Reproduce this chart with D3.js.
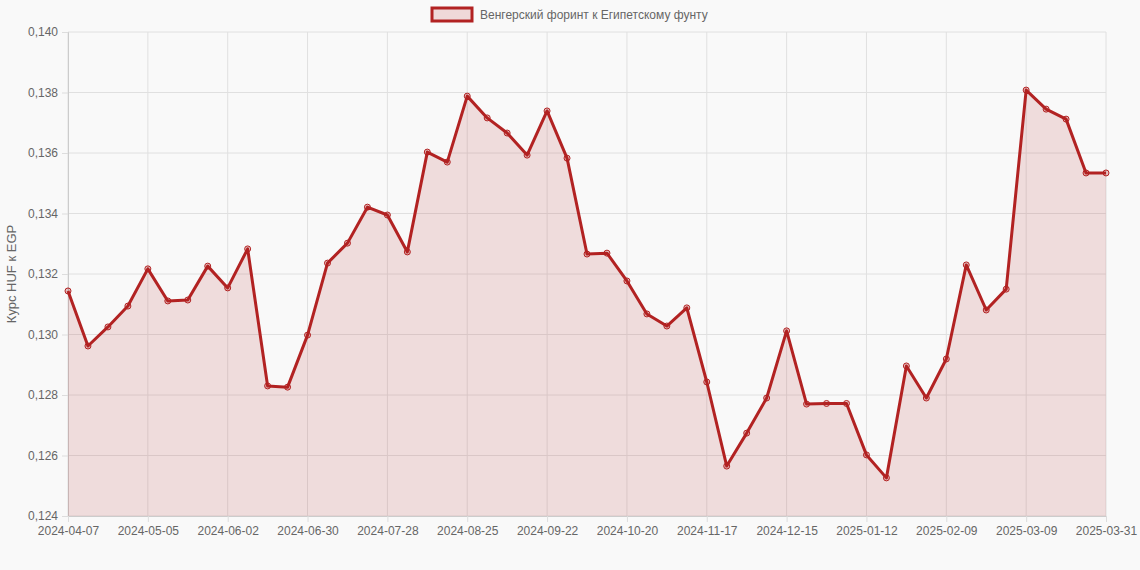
<!DOCTYPE html>
<html><head><meta charset="utf-8">
<script src="https://cdn.jsdelivr.net/npm/d3@7"></script>
<style>body{margin:0;background:#f9f9f9;font-family:"Liberation Sans",Arial,sans-serif}</style>
</head><body><svg id="c" width="1140" height="570"></svg>
<script>
const dates = ["2024-04-07","2024-04-14","2024-04-21","2024-04-28","2024-05-05","2024-05-12","2024-05-19","2024-05-26","2024-06-02","2024-06-09","2024-06-16","2024-06-23","2024-06-30","2024-07-07","2024-07-14","2024-07-21","2024-07-28","2024-08-04","2024-08-11","2024-08-18","2024-08-25","2024-09-01","2024-09-08","2024-09-15","2024-09-22","2024-09-29","2024-10-06","2024-10-13","2024-10-20","2024-10-27","2024-11-03","2024-11-10","2024-11-17","2024-11-24","2024-12-01","2024-12-08","2024-12-15","2024-12-22","2024-12-29","2025-01-05","2025-01-12","2025-01-19","2025-01-26","2025-02-02","2025-02-09","2025-02-16","2025-02-23","2025-03-02","2025-03-09","2025-03-16","2025-03-23","2025-03-30","2025-03-31"];
const rates = [0.13144,0.12962,0.13025,0.13094,0.13217,0.13111,0.13114,0.13226,0.13154,0.13283,0.12830,0.12826,0.12998,0.13236,0.13302,0.13421,0.13395,0.13273,0.13603,0.13570,0.13788,0.13716,0.13666,0.13593,0.13739,0.13583,0.13266,0.13269,0.13177,0.13068,0.13028,0.13088,0.12843,0.12565,0.12674,0.12790,0.13012,0.12770,0.12772,0.12772,0.12602,0.12526,0.12896,0.12790,0.12919,0.13230,0.13081,0.13150,0.13808,0.13745,0.13712,0.13534,0.13534];
const yTicks = [0.124,0.126,0.128,0.130,0.132,0.134,0.136,0.138,0.140];
const xTickIdx = [0,4,8,12,16,20,24,28,32,36,40,44,48,52];
const seriesName = "Венгерский форинт к Египетскому фунту";
const yTitle = "Курс HUF к EGP";

const F = "Liberation Sans, Arial, sans-serif";
const svg = d3.select("#c");
const L=68,R=1106,T=32,B=516;
const x = d3.scalePoint().domain(d3.range(dates.length)).range([L,R]);
const y = d3.scaleLinear().domain([0.124,0.140]).range([B,T]);
const fmt = v => v.toFixed(3).replace(".",",");
const g = svg.append("g");
g.selectAll(".hy").data(yTicks).join("line").attr("x1",L).attr("x2",R).attr("y1",d=>y(d)).attr("y2",d=>y(d)).attr("stroke","#e0e0e0");
g.selectAll(".vx").data(xTickIdx).join("line").attr("x1",d=>x(d)).attr("x2",d=>x(d)).attr("y1",T).attr("y2",B).attr("stroke","#e0e0e0");
const ya = svg.append("g").attr("transform",`translate(${L},0)`).call(d3.axisLeft(y).tickValues(yTicks).tickFormat(fmt).tickSize(6).tickPadding(4));
const xa = svg.append("g").attr("transform",`translate(0,${B})`).call(d3.axisBottom(x).tickValues(xTickIdx).tickFormat(i=>dates[i]).tickSize(6).tickPadding(4));
[ya,xa].forEach(a=>{a.select(".domain").attr("stroke","#ccc");a.selectAll("line").attr("stroke","#ddd");a.selectAll("text").attr("fill","#666").attr("font-size",12).attr("font-family",F);});
svg.append("path").datum(rates).attr("fill","rgba(178,34,34,0.13)")
 .attr("d",d3.area().x((d,i)=>x(i)).y0(B).y1(d=>y(d)));
svg.append("path").datum(rates).attr("fill","none").attr("stroke","#b22222").attr("stroke-width",3).attr("stroke-linejoin","round")
 .attr("d",d3.line().x((d,i)=>x(i)).y(d=>y(d)));
svg.selectAll(".pt").data(rates).join("circle").attr("cx",(d,i)=>x(i)).attr("cy",d=>y(d)).attr("r",3)
 .attr("fill","rgba(178,34,34,0.25)").attr("stroke","#b22222").attr("stroke-width",1);
const lg = svg.append("g");
lg.append("rect").attr("x",432).attr("y",8).attr("width",40).attr("height",13).attr("fill","rgba(178,34,34,0.15)").attr("stroke","#b22222").attr("stroke-width",3);
lg.append("text").attr("x",480).attr("y",19).attr("fill","#666").attr("font-size",12).attr("font-family",F).text(seriesName);
svg.append("text").attr("transform",`translate(16,${(T+B)/2}) rotate(-90)`).attr("text-anchor","middle").attr("fill","#666").attr("font-size",13).attr("font-family",F).text(yTitle);
</script></body></html>
